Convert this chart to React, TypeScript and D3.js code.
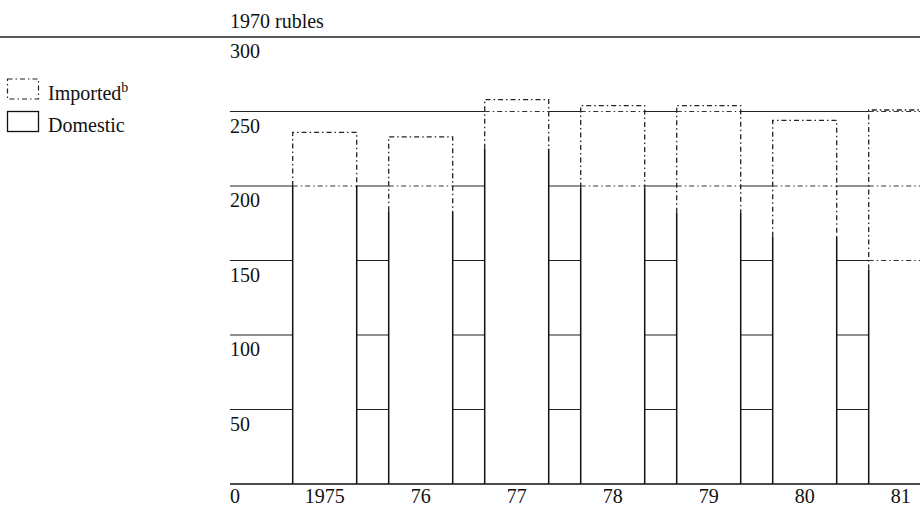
import * as d3 from "d3";

const years = ["1975", "76", "77", "78", "79", "80", "81"];
const domestic = [200, 183, 225, 199, 182, 166, 144];
const imported = [36, 50, 33, 55, 72, 78, 107];
const yTicks = [0, 50, 100, 150, 200, 250, 300];

const W = 920;
const H = 508;
const font = "'Liberation Serif', 'Times New Roman', serif";
const dash = "5 3 1.5 3";

export default function App() {
  const y = d3.scaleLinear().domain([0, 300]).range([484, 37]);
  const x = d3
    .scaleBand<string>()
    .domain(years)
    .range([292.7, 932.7])
    .paddingInner(1 / 3)
    .paddingOuter(0);
  const bw = x.bandwidth();
  const axisLeft = 230;

  const bars = years.map((yr, i) => ({
    yr,
    dom: domestic[i],
    total: domestic[i] + imported[i],
    x0: x(yr) ?? 0,
  }));

  return (
    <svg
      width={W}
      height={H}
      style={{ position: "absolute", left: 0, top: 0, background: "#fff" }}
      fontFamily={font}
      fontSize={20}
    >
      <rect width={W} height={H} fill="#fff" />
      {/* unit label and top rule */}
      <text x={axisLeft} y={28} fill="#111">
        1970 rubles
      </text>
      <line x1={0} x2={W} y1={y(300)} y2={y(300)} stroke="#222" strokeWidth={1.3} />

      {/* gridlines */}
      {yTicks
        .filter((t) => t > 0 && t < 300)
        .map((t) => (
          <line key={t} x1={axisLeft} x2={W} y1={y(t)} y2={y(t)} stroke="#222" strokeWidth={1.1} />
        ))}

      {/* bars */}
      {bars.map((b) => (
        <g key={b.yr}>
          <rect x={b.x0} y={y(b.total)} width={bw} height={y(0) - y(b.total)} fill="#fff" />
          {yTicks
            .filter((t) => t > 0 && t >= b.dom && t < b.total)
            .map((t) => (
              <line
                key={t}
                x1={b.x0}
                x2={b.x0 + bw}
                y1={y(t)}
                y2={y(t)}
                stroke="#333"
                strokeWidth={1}
                strokeDasharray={dash}
              />
            ))}
          <path
            d={`M${b.x0},${y(0)}V${y(b.dom)}M${b.x0 + bw},${y(0)}V${y(b.dom)}`}
            stroke="#111"
            strokeWidth={1.5}
            fill="none"
          />
          <path
            d={`M${b.x0},${y(b.dom)}V${y(b.total)}H${b.x0 + bw}V${y(b.dom)}`}
            stroke="#222"
            strokeWidth={1.3}
            fill="none"
            strokeDasharray={dash}
          />
        </g>
      ))}

      {/* baseline */}
      <line x1={axisLeft} x2={W} y1={y(0)} y2={y(0)} stroke="#111" strokeWidth={1.5} />

      {/* tick labels */}
      {yTicks.map((t) => (
        <text key={t} x={axisLeft} y={t === 0 ? 503 : y(t) + 21} fill="#111">
          {t}
        </text>
      ))}
      {years.map((yr) => (
        <text key={yr} x={(x(yr) ?? 0) + bw / 2} y={503} textAnchor="middle" fill="#111">
          {yr}
        </text>
      ))}

      {/* legend */}
      <rect x={7.5} y={79} width={31} height={20} fill="none" stroke="#222" strokeWidth={1.2} strokeDasharray={dash} />
      <text x={48} y={100} fill="#111">
        Imported
        <tspan fontSize={14} dy={-8} fill="#111">
          b
        </tspan>
      </text>
      <rect x={7.5} y={111.5} width={31} height={20} fill="none" stroke="#111" strokeWidth={1.3} />
      <text x={48} y={132} fill="#111">
        Domestic
      </text>
    </svg>
  );
}
